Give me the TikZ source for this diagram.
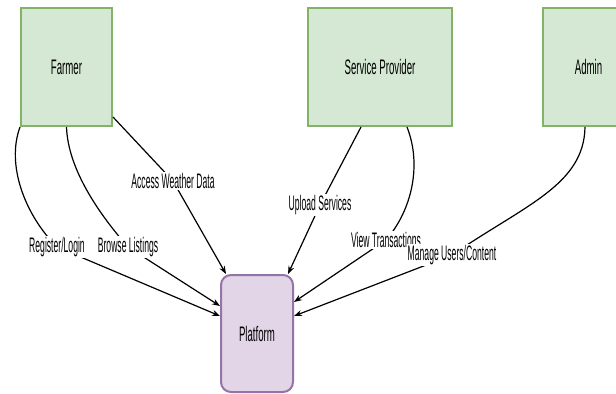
\documentclass[tikz,border=0pt]{standalone}
\usepackage{fontspec}
\newfontfamily\boxfont[FakeStretch=0.46]{Liberation Sans}
\newfontfamily\lblfont[FakeStretch=0.41]{Liberation Sans}
\usetikzlibrary{calc,arrows.meta}
\definecolor{actorfill}{HTML}{D5E8D4}
\definecolor{actorline}{HTML}{82B366}
\definecolor{platfill}{HTML}{E1D5E7}
\definecolor{platline}{HTML}{9673A6}

\begin{document}
\begin{tikzpicture}[x=0.5pt,y=-0.5pt,
  actor/.style={draw=actorline,fill=actorfill,line width=1pt,minimum height=59pt,font=\boxfont\fontsize{10.5}{12}\selectfont},
  platform/.style={draw=platline,fill=platfill,line width=1pt,rounded corners=5pt,minimum width=36pt,minimum height=58.5pt,font=\boxfont\fontsize{10.5}{12}\selectfont},
  flow/.style={-{Stealth[length=4pt,width=3pt]},line width=0.6pt},
  lbl/.style={fill=white,inner sep=0.5pt,font=\lblfont\fontsize{10.5}{12}\selectfont}]

\useasboundingbox (0,0) rectangle (616,393);
\clip (0,0) rectangle (616,393);

%Actors and platform
\node[actor,minimum width=45.5pt] (farmer) at (66.5,67) {Farmer};
\node[actor,minimum width=72pt] (provider) at (380,67) {Service Provider};
\node[actor,minimum width=45.5pt] (admin) at (588.5,67) {Admin};
\node[platform] (platform) at (257,333.5) {Platform};

\coordinate (regpt) at (57,247); \coordinate (browsept) at (128,247); \coordinate (weatherpt) at (173,181);
\coordinate (uploadpt) at (320,205); \coordinate (viewpt) at (386,240); \coordinate (managept) at (452,255);

%Farmer flows
\draw[flow] (farmer.south west) .. controls (6,165) and (25,215) .. (regpt) -- ([yshift=8.75pt]platform.west);
\draw[flow] (farmer.south) .. controls (68,170) and (100,215) .. (browsept) -- ([yshift=13.75pt]platform.west);
\draw[flow] ([yshift=5pt]farmer.south east) -- (weatherpt) -- ([xshift=3pt]platform.north west);

%Provider and admin flows
\draw[flow] ([xshift=-9.5pt]provider.south) -- (uploadpt) -- ([xshift=-3pt]platform.north east);
\draw[flow] ([xshift=13.5pt]provider.south) .. controls (422,165) and (412,210) .. (viewpt) -- ([yshift=15.75pt]platform.east);
\draw[flow] ([xshift=-1.75pt]admin.south) .. controls (584,185) and (525,205) .. (managept) -- ([yshift=8.75pt]platform.east);

%Labels
\node[lbl] (reg) at (regpt) {Register/Login};
\node[lbl] (browse) at (browsept) {Browse Listings};
\node[lbl] (weather) at (weatherpt) {Access Weather Data};
\node[lbl] (upload) at (uploadpt) {Upload Services};
\node[lbl] (view) at (viewpt) {View Transactions};
\node[lbl] (manage) at (managept) {Manage Users/Content};

\end{tikzpicture}
\end{document}
